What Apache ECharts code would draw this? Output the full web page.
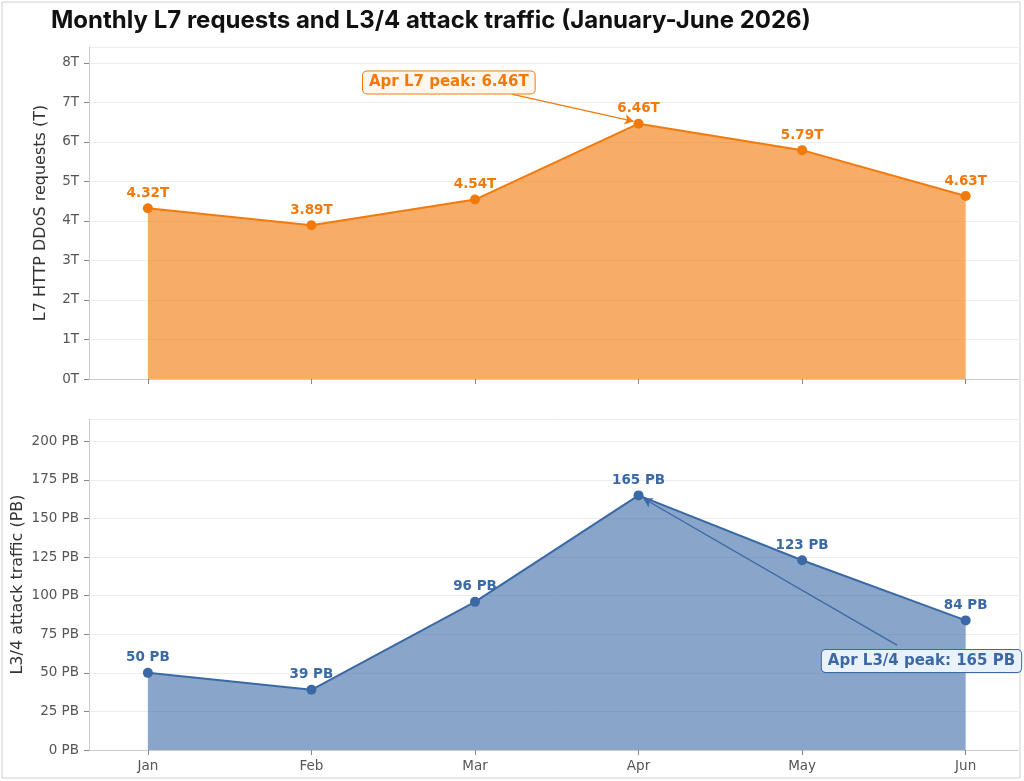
<!DOCTYPE html>
<html>
<head>
<meta charset="utf-8">
<script src="https://cdn.jsdelivr.net/npm/echarts@6/dist/echarts.min.js"></script>
<style>
html,body{margin:0;padding:0;background:#fff;}
#c{width:1024px;height:781px;}
</style>
</head>
<body>
<div id="c"></div>
<script>
const months = ['Jan', 'Feb', 'Mar', 'Apr', 'May', 'Jun'];
const l7Values = [4.32, 3.89, 4.54, 6.46, 5.79, 4.63];
const l34Values = [50, 39, 96, 165, 123, 84];
const l7Peak = { month: 3, value: 6.46, text: 'Apr L7 peak: 6.46T' };
const l34Peak = { month: 3, value: 165, text: 'Apr L3/4 peak: 165 PB' };

const ORANGE = '#f27a0c';
const BLUE = '#3a69a6';
const FONT = 'DejaVu Sans';
const idx = months.map((m, i) => i);

const chart = echarts.init(document.getElementById('c'), null, { renderer: 'canvas' });

function xAxisCfg(gridIndex, showLabels) {
  return {
    type: 'value', gridIndex, min: -0.36, max: 5.32,
    splitLine: { show: false },
    axisLine: { show: true, onZero: false, lineStyle: { color: '#cccccc', width: 1 } },
    axisTick: { show: true, customValues: idx, length: 5, lineStyle: { color: '#888' } },
    axisLabel: {
      show: showLabels, customValues: idx, color: '#555', fontFamily: FONT, fontSize: 13.5, margin: 9,
      formatter: v => months[Math.round(v)]
    }
  };
}
function yAxisCfg(gridIndex, max, interval, suffix, name, gap) {
  return {
    type: 'value', gridIndex, min: 0, max, interval,
    name, nameLocation: 'middle', nameRotate: 90, nameGap: gap, nameMoveOverlap: false,
    nameTextStyle: { color: '#333', fontFamily: FONT, fontSize: 16 },
    axisLine: { show: true, onZero: false, lineStyle: { color: '#cccccc' } },
    axisTick: { show: true, inside: false, length: 5, lineStyle: { color: '#888' } },
    axisLabel: { color: '#555', fontFamily: FONT, fontSize: 13.5, margin: 10, formatter: v => v + suffix,
      showMaxLabel: false },
    splitLine: { show: true, lineStyle: { color: '#ececec', width: 1 } }
  };
}

const option = {
  animation: false,
  backgroundColor: '#fff',
  title: {
    text: 'Monthly L7 requests and L3/4 attack traffic (January-June 2026)',
    left: 46, top: 4,
    textStyle: { fontFamily: 'Inter', fontWeight: 'bold', fontSize: 24, color: '#111' }
  },
  graphic: [{
    type: 'rect', shape: { x: 2, y: 2, width: 1018, height: 776 },
    style: { fill: 'none', stroke: '#d0d0d0', lineWidth: 1 }, silent: true, z: -1
  }],
  grid: [
    { left: 89, right: 6, top: 47, height: 332, containLabel: false, outerBoundsMode: 'none' },
    { left: 89, right: 6, top: 419, height: 331, containLabel: false, outerBoundsMode: 'none' }
  ],
  xAxis: [xAxisCfg(0, false), xAxisCfg(1, true)],
  yAxis: [
    yAxisCfg(0, 8.4, 1, 'T', 'L7 HTTP DDoS requests (T)', 40),
    yAxisCfg(1, 214.5, 25, ' PB', 'L3/4 attack traffic (PB)', 63)
  ],
  series: [
    {
      type: 'line', xAxisIndex: 0, yAxisIndex: 0,
      data: l7Values.map((v, i) => [i, v]),
      symbol: 'circle', symbolSize: 10,
      lineStyle: { color: ORANGE, width: 2 },
      itemStyle: { color: ORANGE },
      areaStyle: { color: ORANGE, opacity: 0.62 },
      label: { show: true, position: 'top', distance: 3, color: ORANGE, fontFamily: FONT, fontWeight: 'bold', fontSize: 13.5,
        formatter: p => p.value[1].toFixed(2) + 'T' },
      markLine: {
        silent: true, symbol: ['none', 'arrow'], symbolSize: [8, 9],
        lineStyle: { color: ORANGE, width: 1.3, type: 'solid' },
        label: { show: false },
        data: [[{ coord: [2.23, 7.2] }, { coord: [l7Peak.month - 0.03, l7Peak.value + 0.06] }]]
      },
      markPoint: {
        silent: true,
        data: [{
          coord: [1.84, 7.5], symbol: 'rect', symbolSize: [1, 1], itemStyle: { color: 'rgba(0,0,0,0)' },
          label: { show: true, position: 'inside', formatter: l7Peak.text, color: ORANGE, fontFamily: FONT, fontWeight: 'bold', fontSize: 15,
            backgroundColor: '#fff6ee', borderColor: ORANGE, borderWidth: 1, borderRadius: 4, padding: [4, 6, 3, 6] }
        }]
      }
    },
    {
      type: 'line', xAxisIndex: 1, yAxisIndex: 1,
      data: l34Values.map((v, i) => [i, v]),
      symbol: 'circle', symbolSize: 10,
      lineStyle: { color: BLUE, width: 2 },
      itemStyle: { color: BLUE },
      areaStyle: { color: BLUE, opacity: 0.6 },
      label: { show: true, position: 'top', distance: 3, color: BLUE, fontFamily: FONT, fontWeight: 'bold', fontSize: 13.5,
        formatter: p => p.value[1] + ' PB' },
      markLine: {
        silent: true, symbol: ['none', 'arrow'], symbolSize: [8, 9],
        lineStyle: { color: BLUE, width: 1.3, type: 'solid' },
        label: { show: false },
        data: [[{ coord: [4.58, 68] }, { coord: [l34Peak.month + 0.03, l34Peak.value - 2] }]]
      },
      markPoint: {
        silent: true,
        data: [{
          coord: [4.73, 57.6], symbol: 'rect', symbolSize: [1, 1], itemStyle: { color: 'rgba(0,0,0,0)' },
          label: { show: true, position: 'inside', formatter: l34Peak.text, color: BLUE, fontFamily: FONT, fontWeight: 'bold', fontSize: 15,
            backgroundColor: '#e9f1fb', borderColor: BLUE, borderWidth: 1, borderRadius: 4, padding: [4, 6, 3, 6] }
        }]
      }
    }
  ]
};
chart.setOption(option);
</script>
</body>
</html>
